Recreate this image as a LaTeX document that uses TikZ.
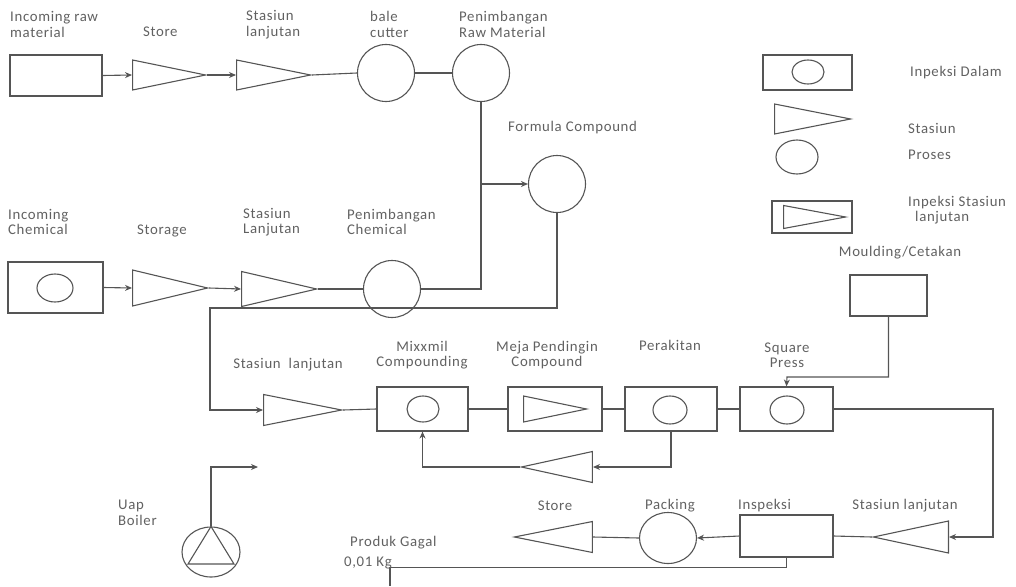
\documentclass[tikz,border=0pt]{standalone}
\usepackage{fontspec}
\setmainfont{Carlito}[LetterSpace=4.5]
\usetikzlibrary{shapes.geometric,arrows.meta}
\definecolor{ln}{HTML}{555555}
\definecolor{tx}{HTML}{616161}
\begin{document}
\begin{tikzpicture}[x=1pt,y=-1pt,
  every node/.style={inner sep=0pt},
  shp/.style={draw=ln, line width=1.1pt},
  boxn/.style={shp, rectangle},
  circn/.style={shp, ellipse},
  tri/.style={shp, isosceles triangle, isosceles triangle stretches},
  tril/.style={tri, shape border rotate=180},
  conn/.style={draw=ln, line width=1.1pt},
  arr/.style={conn, -{Stealth[length=7pt,width=6pt]}},
  lbl/.style={font=\fontsize{14.8}{15.5}\selectfont, text=tx, align=left},
  lblc/.style={lbl, align=center}]
\useasboundingbox (0,0) rectangle (1016,586);

% ---------- row 1: raw material ----------
\node[boxn, minimum width=92pt, minimum height=41pt] (raw) at (56,75.5) {};
\node[tri, minimum height=73pt, minimum width=30pt, anchor=apex] (store1) at (207,75) {};
\node[tri, minimum height=74pt, minimum width=30pt, anchor=apex] (stl1) at (312,75) {};
\node[circn, minimum width=57pt, minimum height=57pt] (bale) at (386,73) {};
\node[circn, minimum width=57pt, minimum height=57pt] (penraw) at (481,73) {};

% ---------- row 2: chemical ----------
\node[boxn, minimum width=95pt, minimum height=51pt] (chem) at (55.5,287.5) {};
\node[circn, minimum width=36pt, minimum height=28pt] (chemin) at (55,288) {};
\node[tri, minimum height=75pt, minimum width=36pt, anchor=apex] (storage) at (209,288) {};
\node[tri, minimum height=75pt, minimum width=35pt, anchor=apex] (stl2) at (318,289) {};
\node[circn, minimum width=57pt, minimum height=57pt] (penchem) at (392,289) {};
\node[circn, minimum width=57pt, minimum height=57pt] (formula) at (557,184) {};

% ---------- middle row ----------
\node[tri, minimum height=78pt, minimum width=31pt, anchor=apex] (stl3) at (343,410) {};
\node[boxn, minimum width=91pt, minimum height=44pt] (mix) at (422.5,409) {};
\node[circn, minimum width=32pt, minimum height=26pt] (mixin) at (423,409) {};
\node[boxn, minimum width=94pt, minimum height=44pt] (meja) at (555,409) {};
\node[tri, minimum height=63pt, minimum width=26pt, anchor=apex] (mejain) at (588,409) {};
\node[boxn, minimum width=92pt, minimum height=44pt] (perak) at (671,409) {};
\node[circn, minimum width=34pt, minimum height=28pt] (perakin) at (670,410) {};
\node[boxn, minimum width=93pt, minimum height=44pt] (square) at (786.5,409) {};
\node[circn, minimum width=34pt, minimum height=28pt] (squarein) at (787,410) {};
\node[boxn, minimum width=77pt, minimum height=41pt] (mould) at (888.5,295.5) {};
\node[tril, minimum height=71pt, minimum width=31pt, anchor=apex] (ret) at (520,467) {};

% ---------- bottom row ----------
\node[tril, minimum height=75pt, minimum width=32pt, anchor=apex] (stl4) at (872,537) {};
\node[boxn, minimum width=93pt, minimum height=42pt] (insp) at (786.5,536) {};
\node[circn, minimum width=57pt, minimum height=51pt] (pack) at (668,538) {};
\node[tril, minimum height=78pt, minimum width=31pt, anchor=apex] (store2) at (513,537) {};
\node[circn, minimum width=58pt, minimum height=50pt] (boiler) at (211,552) {};
\draw[conn] (boiler.north) -- (188,564) -- (234,564) -- cycle;

% ---------- legend ----------
\node[boxn, minimum width=89pt, minimum height=35pt] (lg1) at (807.5,72.5) {};
\node[circn, minimum width=32pt, minimum height=24pt] (lg1in) at (808,72) {};
\node[tri, minimum height=76pt, minimum width=30pt, anchor=apex] (lg2) at (852,119) {};
\node[circn, minimum width=42pt, minimum height=34pt] (lg3) at (797,157) {};
\node[boxn, minimum width=80pt, minimum height=32pt] (lg4) at (812,217) {};
\node[tri, minimum height=62pt, minimum width=23pt, anchor=apex] (lg4in) at (847,217) {};

% ---------- helper coordinates ----------
\coordinate (c1) at (210,308);
\coordinate (c2) at (787,377);
\coordinate (c3) at (993,537);
\coordinate (c4) at (258,467);
\coordinate (c5) at (390,586);

% ---------- connectors ----------
\draw[arr] (raw.east) -- (store1.lower side);
\draw[arr] (store1.apex) -- (stl1.lower side);
\draw[conn] (stl1.apex) -- (bale.west);
\draw[conn] (bale.east) -- (penraw.west);
\draw[arr] (chem.east) -- (storage.lower side);
\draw[arr] (storage.apex) -- (stl2.lower side);
\draw[conn] (stl2.apex) -- (penchem.west);
\draw[conn] (penchem.east) -| (penraw.south);
\draw[arr] (penraw.south |- formula.west) -- (formula.west);
\draw[arr] (formula.south) |- (c1) |- (stl3.lower side);
\draw[conn] (stl3.apex) -- (mix.west);
\draw[conn] (mix.east) -- (meja.west);
\draw[conn] (meja.east) -- (perak.west);
\draw[conn] (perak.east) -- (square.west);
\draw[arr] (mould.south) |- (c2) -- (square.north);
\draw[arr] (square.east) -| (c3) -- (stl4.lower side);
\draw[arr] (perak.south) |- (ret.lower side);
\draw[arr] (ret.apex) -| (mix.south);
\draw[conn] (stl4.apex) -- (insp.east);
\draw[arr] (insp.west) -- (pack.east);
\draw[conn] (pack.west) -- (store2.lower side);
\draw[conn] (insp.south) -- ++(0,10) -| (c5);
\draw[arr] (boiler.north) |- (c4);

% ---------- labels ----------
\node[lbl, anchor=west] (t1) at (10,24.5) {Incoming raw\\material};
\node[lbl, anchor=west] (t2) at (143,32) {Store};
\node[lbl, anchor=west] (t3) at (246,24.5) {Stasiun\\lanjutan};
\node[lbl, anchor=west] (t4) at (370,24.5) {bale\\cutter};
\node[lbl, anchor=west] (t5) at (459,24.5) {Penimbangan\\Raw Material};
\node[lbl, anchor=west] (t6) at (8,222) {Incoming\\Chemical};
\node[lbl, anchor=west] (t7) at (137,231) {Storage};
\node[lbl, anchor=west] (t8) at (243,222) {Stasiun\\Lanjutan};
\node[lbl, anchor=west] (t9) at (347,222) {Penimbangan\\Chemical};
\node[lbl, anchor=west] (t10) at (508,128) {Formula Compound};
\node[lbl] (t11) at (288,365) {Stasiun\ \ lanjutan};
\node[lblc] (t12) at (422,355) {Mixxmil\\Compounding};
\node[lblc] (t13) at (547,355) {Meja Pendingin\\Compound};
\node[lbl] (t14) at (670,345) {Perakitan};
\node[lblc] (t15) at (787,355) {Square\\Press};
\node[lbl] (t16) at (555,506) {Store};
\node[lbl] (t17) at (670,506) {Packing};
\node[lbl, anchor=west] (t18) at (738,506) {Inspeksi};
\node[lbl] (t19) at (905,506) {Stasiun lanjutan};
\node[lbl, anchor=west] (t20) at (118,513) {Uap\\Boiler};
\node[lbl, anchor=west] (t21) at (350,543) {Produk Gagal};
\node[lbl, anchor=west] (t22) at (344,563) {0,01 Kg};
\node[lbl, anchor=west] (t23) at (910,73) {Inpeksi Dalam};
\node[lbl, anchor=west] (t24) at (908,128) {Stasiun};
\node[lbl, anchor=west] (t25) at (908,155) {Proses};
\node[lbl, anchor=west] (t26) at (908,203) {Inpeksi Stasiun};
\node[lbl, anchor=west] (t27) at (915,218) {lanjutan};
\node[lbl] (t28) at (900,253) {Moulding/Cetakan};
\end{tikzpicture}
\end{document}
